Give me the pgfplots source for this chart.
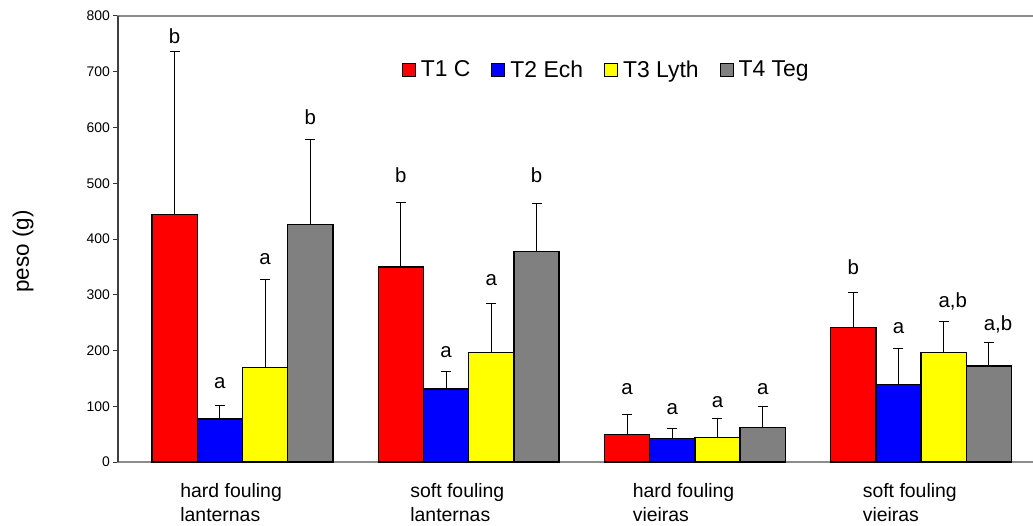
\documentclass[border=0pt]{standalone}
\usepackage{fontspec}
\setmainfont{Liberation Sans}
\usepackage{pgfplots}
\usepackage{pgfplotstable}
\pgfplotsset{compat=1.18}

% columns: bar position, mean weight, standard deviation
\pgfplotstableread{
x    y    e
0.25 444  293
1.25 350  116
2.25  49   36
3.25 241   63
}\tone
\pgfplotstableread{
x    y    e
0.45  77   24
1.45 131   31
2.45  42   18
3.45 139   64
}\ttwo
\pgfplotstableread{
x    y    e
0.65 170  157
1.65 196   89
2.65  44   34
3.65 197   55
}\tthree
\pgfplotstableread{
x    y    e
0.85 426  153
1.85 378   85
2.85  62   37
3.85 172   43
}\tfour

\definecolor{tone}{HTML}{FF0000}
\definecolor{ttwo}{HTML}{0000FF}
\definecolor{tthree}{HTML}{FFFF00}
\definecolor{tfour}{HTML}{808080}
\definecolor{frame}{HTML}{8C8C8C}

\pgfplotsset{
  trbar/.style={
    ybar, bar width=0.2, bar shift=0pt,
    draw=black, line width=1.3bp, fill=#1,
    error bars/.cd, y dir=plus, y explicit,
      error bar style={line width=1bp, black},
      error mark options={rotate=90, mark size=5bp, line width=1bp, black},
  },
}

\begin{document}
\begin{tikzpicture}
\begin{axis}[
  name=ax,
  at={(0,0)}, anchor=south west,
  scale only axis,
  width=930bp, height=446bp,
  xmin=0, xmax=4.111,
  ymin=0, ymax=800,
  ytick={0,100,...,800},
  xtick={0.5,1.5,2.5,3.5},
  xticklabels={{hard fouling\\lanternas},{soft fouling\\lanternas},{hard fouling\\vieiras},{soft fouling\\vieiras}},
  major x tick style={draw=none},
  ytick pos=left,
  tick align=outside,
  major tick length=5bp,
  major y tick style={line width=1bp, black!80},
  axis line style={draw=frame, line width=1.5bp},
  /pgf/number format/assume math mode=true,
  yticklabel style={font=\fontsize{14}{16}\selectfont, inner sep=0pt, xshift=-3bp},
  xticklabel style={font=\fontsize{19.5}{23.4}\selectfont, align=left, inner sep=0pt, anchor=north, yshift=-16.5bp},
  ylabel={peso (g)},
  ylabel style={font=\fontsize{22.5}{26}\selectfont, at={(axis description cs:-0.102,0.472)}, anchor=center},
  legend columns=4,
  legend style={
    draw=none, fill=none, inner sep=0pt,
    at={(axis description cs:0.305,0.880)}, anchor=west,
    font=\fontsize{23}{27}\selectfont,
    nodes={inner xsep=0pt, inner ysep=0pt},
    /tikz/every odd column/.append style={column sep=5bp},
    /tikz/every even column/.append style={column sep=21bp},
  },
  legend image code/.code={
    \draw[line width=1bp, draw=black, fill=#1] (0bp,-6.5bp) rectangle (13bp,6.5bp);
  },
  clip=false,
]
\addplot[trbar=tone]   table[x=x, y=y, y error=e] {\tone};
\addlegendentry{T1 C}
\addplot[trbar=ttwo]   table[x=x, y=y, y error=e] {\ttwo};
\addlegendentry{T2 Ech}
\addplot[trbar=tthree] table[x=x, y=y, y error=e] {\tthree};
\addlegendentry{T3 Lyth}
\addplot[trbar=tfour]  table[x=x, y=y, y error=e] {\tfour};
\addlegendentry{T4 Teg}

% darker value axis on the left
\draw[line width=1.5bp, black!75] (axis description cs:0,0) -- (axis description cs:0,1);

% significance letters
\begin{scope}[every node/.style={anchor=base, inner sep=0pt, font=\fontsize{20.5}{24}\selectfont}]
\node at (axis cs:0.25,751) {b};
\node at (axis cs:0.45,132) {a};
\node at (axis cs:0.65,354) {a};
\node at (axis cs:0.85,605) {b};
\node at (axis cs:1.25,502) {b};
\node at (axis cs:1.45,188) {a};
\node at (axis cs:1.65,317) {a};
\node at (axis cs:1.85,502) {b};
\node at (axis cs:2.25,121) {a};
\node at (axis cs:2.45,85) {a};
\node at (axis cs:2.65,97) {a};
\node at (axis cs:2.85,121) {a};
\node at (axis cs:3.25,336) {b};
\node at (axis cs:3.45,230) {a};
\node[xshift=9bp] at (axis cs:3.65,278) {a,b};
\node[xshift=9bp] at (axis cs:3.85,236) {a,b};
\end{scope}
\end{axis}
\pgfresetboundingbox
\path[use as bounding box] ([xshift=-118bp,yshift=-64bp]ax.south west) rectangle ([xshift=915bp,yshift=16bp]ax.north west);
\end{tikzpicture}
\end{document}
